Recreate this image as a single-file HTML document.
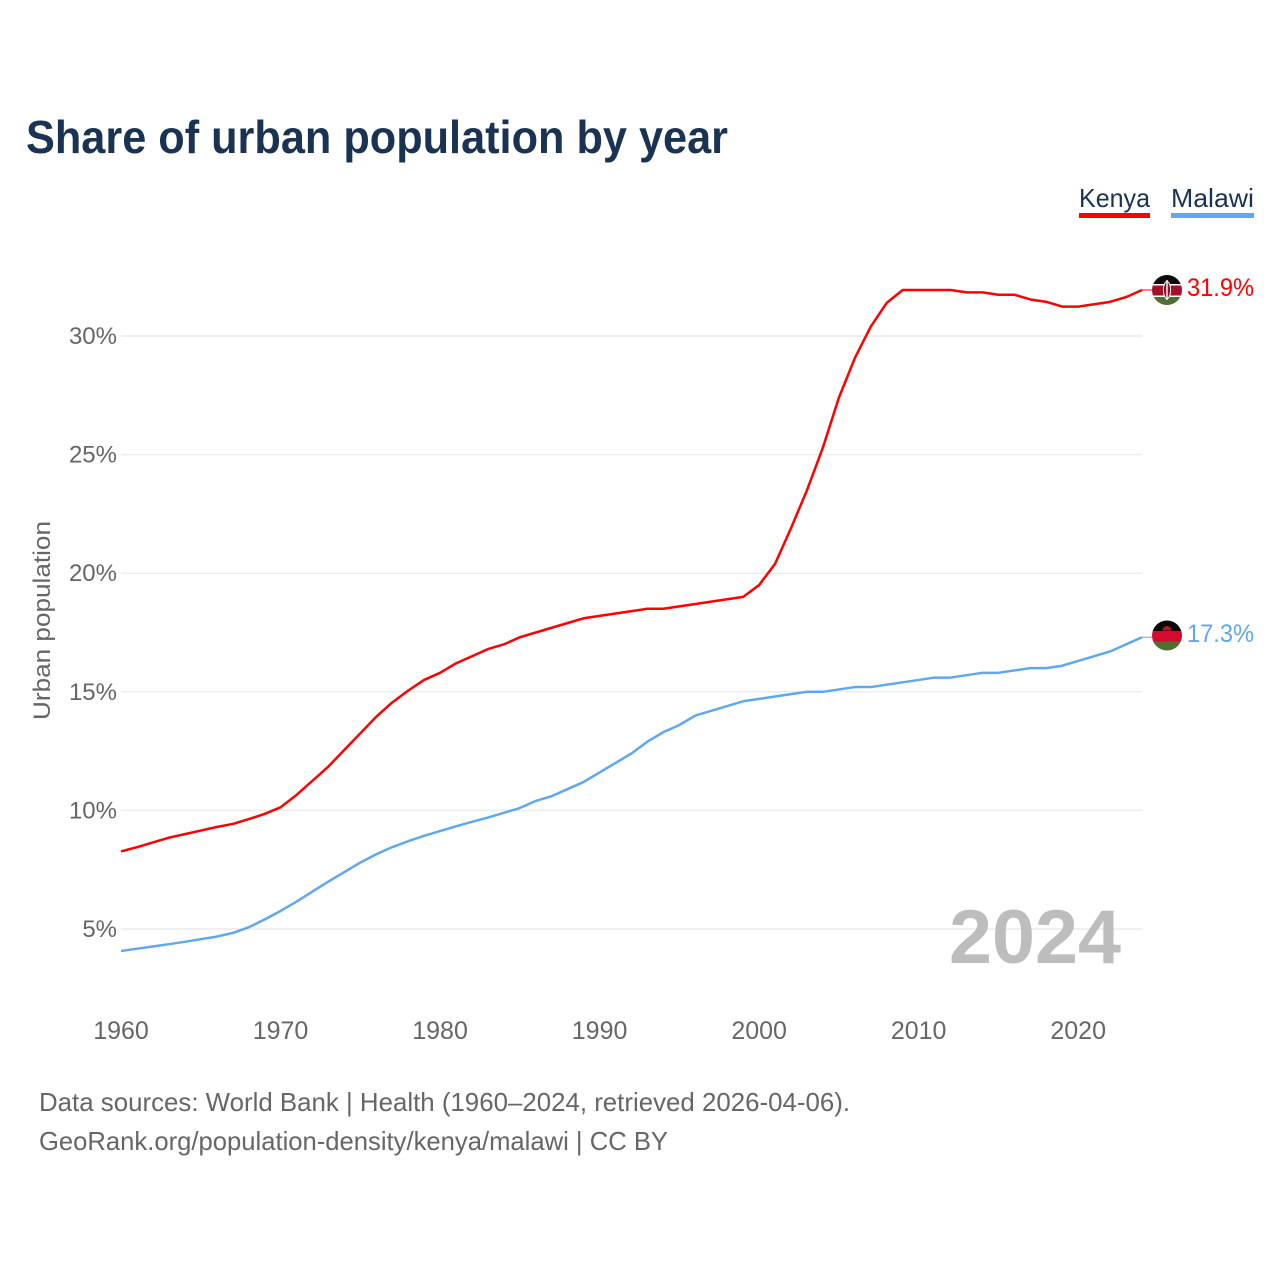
<!DOCTYPE html>
<html lang="en">
<head>
<meta charset="utf-8">
<title>Share of urban population by year</title>
<style>
html,body{margin:0;padding:0;background:#fff;}
svg{display:block;font-family:"Liberation Sans",sans-serif;}
</style>
</head>
<body>
<svg id="chart" width="1280" height="1280" viewBox="0 0 1280 1280" xmlns="http://www.w3.org/2000/svg">
  <defs>
    <clipPath id="flag-clip-top"><circle cx="1167" cy="290" r="15"/></clipPath>
    <clipPath id="flag-clip-bottom"><circle cx="1167" cy="635.5" r="15"/></clipPath>
  </defs>
  <rect width="1280" height="1280" fill="#fff"/>
  <text x="26" y="153" font-size="46" font-weight="700" fill="#1a3353" textLength="702" lengthAdjust="spacingAndGlyphs">Share of urban population by year</text>

  <g id="grid"></g>
  <g id="y-ticks"></g>
  <g id="x-ticks"></g>

  <text transform="translate(50,620.5) rotate(-90)" text-anchor="middle" font-size="24" fill="#666" textLength="199" lengthAdjust="spacingAndGlyphs">Urban population</text>

  <text x="949" y="963" font-size="76" font-weight="700" fill="#bdbdbd" textLength="172" lengthAdjust="spacingAndGlyphs">2024</text>

  <g id="series"></g>

  <g>
    <text x="1079" y="207" font-size="26" fill="#1a3353" textLength="71" lengthAdjust="spacingAndGlyphs">Kenya</text>
    <rect x="1079" y="213" width="71" height="5" fill="#ff0000"/>
  </g>
  <g>
    <text x="1171" y="207" font-size="26" fill="#1a3353" textLength="83" lengthAdjust="spacingAndGlyphs">Malawi</text>
    <rect x="1171" y="213" width="83" height="5" fill="#5fa8ee"/>
  </g>

  <g clip-path="url(#flag-clip-top)">
    <rect x="1152" y="275" width="30" height="10" fill="#0b0b0b"/>
    <rect x="1152" y="284" width="30" height="13" fill="#fff"/>
    <rect x="1152" y="285.5" width="30" height="10" fill="#a3102a"/>
    <rect x="1152" y="297" width="30" height="9" fill="#4f7031"/>
    <ellipse cx="1167" cy="290" rx="3.6" ry="8.5" fill="#8f0e24" stroke="#fff" stroke-width="1"/>
    <rect x="1166.3" y="280" width="1.4" height="20" fill="#fff"/>
  </g>
  <g clip-path="url(#flag-clip-bottom)">
    <rect x="1152" y="620" width="30" height="11" fill="#0b0b0b"/>
    <rect x="1152" y="631" width="30" height="11" fill="#d60a2e"/>
    <rect x="1152" y="641.5" width="30" height="10" fill="#4f7031"/>
    <path d="M1162.5 630.5a4.5 4.5 0 0 1 9 0z" fill="#c8102e"/>
  </g>

  <text x="1187" y="296" font-size="25" fill="#ff0000" textLength="67" lengthAdjust="spacingAndGlyphs">31.9%</text>
  <text x="1187" y="642" font-size="25" fill="#5fa8ee" textLength="67" lengthAdjust="spacingAndGlyphs">17.3%</text>

  <text x="39" y="1111" font-size="26" fill="#666" textLength="811" lengthAdjust="spacingAndGlyphs">Data sources: World Bank | Health (1960–2024, retrieved 2026-04-06).</text>
  <text x="39" y="1150" font-size="26" fill="#666" textLength="629" lengthAdjust="spacingAndGlyphs">GeoRank.org/population-density/kenya/malawi | CC BY</text>
</svg>
<script>
const startYear = 1960;
const yTickValues = [5, 10, 15, 20, 25, 30];
const yTickLabels = ["5%", "10%", "15%", "20%", "25%", "30%"];
const xTickValues = [1960, 1970, 1980, 1990, 2000, 2010, 2020];
const xTickLabels = ["1960", "1970", "1980", "1990", "2000", "2010", "2020"];
const kenyaValues = [
  8.27, 8.45, 8.65, 8.85, 9.0, 9.15, 9.3, 9.43, 9.63, 9.85,
  10.13, 10.65, 11.25, 11.85, 12.55, 13.25, 13.95, 14.55, 15.05, 15.5,
  15.8, 16.2, 16.5, 16.8, 17.0, 17.3, 17.5, 17.7, 17.9, 18.1,
  18.2, 18.3, 18.4, 18.5, 18.5, 18.6, 18.7, 18.8, 18.9, 19.0,
  19.5, 20.4, 21.9, 23.5, 25.3, 27.4, 29.07, 30.4, 31.4, 31.94,
  31.94, 31.94, 31.94, 31.84, 31.84, 31.74, 31.74, 31.54, 31.44, 31.24,
  31.24, 31.34, 31.44, 31.64, 31.94
];
const malawiValues = [
  4.07, 4.17, 4.26, 4.36, 4.46, 4.57, 4.68, 4.83, 5.07, 5.4,
  5.76, 6.15, 6.58, 7.0, 7.4, 7.8, 8.15, 8.45, 8.7, 8.93,
  9.13, 9.33, 9.52, 9.7, 9.9, 10.1, 10.4, 10.6, 10.9, 11.2,
  11.6, 12.0, 12.4, 12.9, 13.3, 13.6, 14.0, 14.2, 14.4, 14.6,
  14.7, 14.8, 14.9, 15.0, 15.0, 15.1, 15.2, 15.2, 15.3, 15.4,
  15.5, 15.6, 15.6, 15.7, 15.8, 15.8, 15.9, 16.0, 16.0, 16.1,
  16.3, 16.5, 16.7, 17.0, 17.3
];

const NS = "http://www.w3.org/2000/svg";
function xScale(year) { return 121 + (year - 1960) * (1142 - 121) / 64; }
function yScale(pct) { return 929 - (pct - 5) * (929 - 336) / 25; }

const grid = document.getElementById("grid");
const yTicks = document.getElementById("y-ticks");
yTickValues.forEach(function (v, i) {
  const line = document.createElementNS(NS, "line");
  
  
  line.setAttribute("x1", 121);
  line.setAttribute("x2", 1142);
  line.setAttribute("y1", yScale(v));
  line.setAttribute("y2", yScale(v));
  line.setAttribute("stroke", "#ececec");
  line.setAttribute("stroke-width", "1.5");
  grid.appendChild(line);

  const t = document.createElementNS(NS, "text");
  
  
  t.setAttribute("x", 117);
  t.setAttribute("y", yScale(v) + 8);
  t.setAttribute("text-anchor", "end");
  t.setAttribute("font-size", "24");
  t.setAttribute("fill", "#666");
  t.textContent = yTickLabels[i];
  yTicks.appendChild(t);
});

const xTicks = document.getElementById("x-ticks");
xTickValues.forEach(function (v, i) {
  const t = document.createElementNS(NS, "text");
  
  
  t.setAttribute("x", xScale(v));
  t.setAttribute("y", 1039);
  t.setAttribute("text-anchor", "middle");
  t.setAttribute("font-size", "25");
  t.setAttribute("fill", "#666");
  t.textContent = xTickLabels[i];
  xTicks.appendChild(t);
});

const seriesGroup = document.getElementById("series");
function pathFor(values) {
  return values.map(function (v, i) {
    return (i ? "L" : "M") + xScale(startYear + i).toFixed(2) + " " + yScale(v).toFixed(2);
  }).join(" ");
}

const kenyaConnector = document.createElementNS(NS, "line");


kenyaConnector.setAttribute("x1", xScale(startYear + kenyaValues.length - 1));
kenyaConnector.setAttribute("x2", 1153);
kenyaConnector.setAttribute("y1", yScale(kenyaValues[kenyaValues.length - 1]));
kenyaConnector.setAttribute("y2", yScale(kenyaValues[kenyaValues.length - 1]));
kenyaConnector.setAttribute("stroke", "#ff0000");
kenyaConnector.setAttribute("stroke-width", "1");
seriesGroup.appendChild(kenyaConnector);

const malawiConnector = document.createElementNS(NS, "line");


malawiConnector.setAttribute("x1", xScale(startYear + malawiValues.length - 1));
malawiConnector.setAttribute("x2", 1153);
malawiConnector.setAttribute("y1", yScale(malawiValues[malawiValues.length - 1]));
malawiConnector.setAttribute("y2", yScale(malawiValues[malawiValues.length - 1]));
malawiConnector.setAttribute("stroke", "#5fa8ee");
malawiConnector.setAttribute("stroke-width", "1");
seriesGroup.appendChild(malawiConnector);

const malawiLine = document.createElementNS(NS, "path");


malawiLine.setAttribute("d", pathFor(malawiValues));
malawiLine.setAttribute("fill", "none");
malawiLine.setAttribute("stroke", "#5fa8ee");
malawiLine.setAttribute("stroke-width", "2.5");
malawiLine.setAttribute("stroke-linejoin", "round");
seriesGroup.appendChild(malawiLine);

const kenyaLine = document.createElementNS(NS, "path");


kenyaLine.setAttribute("d", pathFor(kenyaValues));
kenyaLine.setAttribute("fill", "none");
kenyaLine.setAttribute("stroke", "#ff0000");
kenyaLine.setAttribute("stroke-width", "2.5");
kenyaLine.setAttribute("stroke-linejoin", "round");
seriesGroup.appendChild(kenyaLine);
</script>
</body>
</html>
